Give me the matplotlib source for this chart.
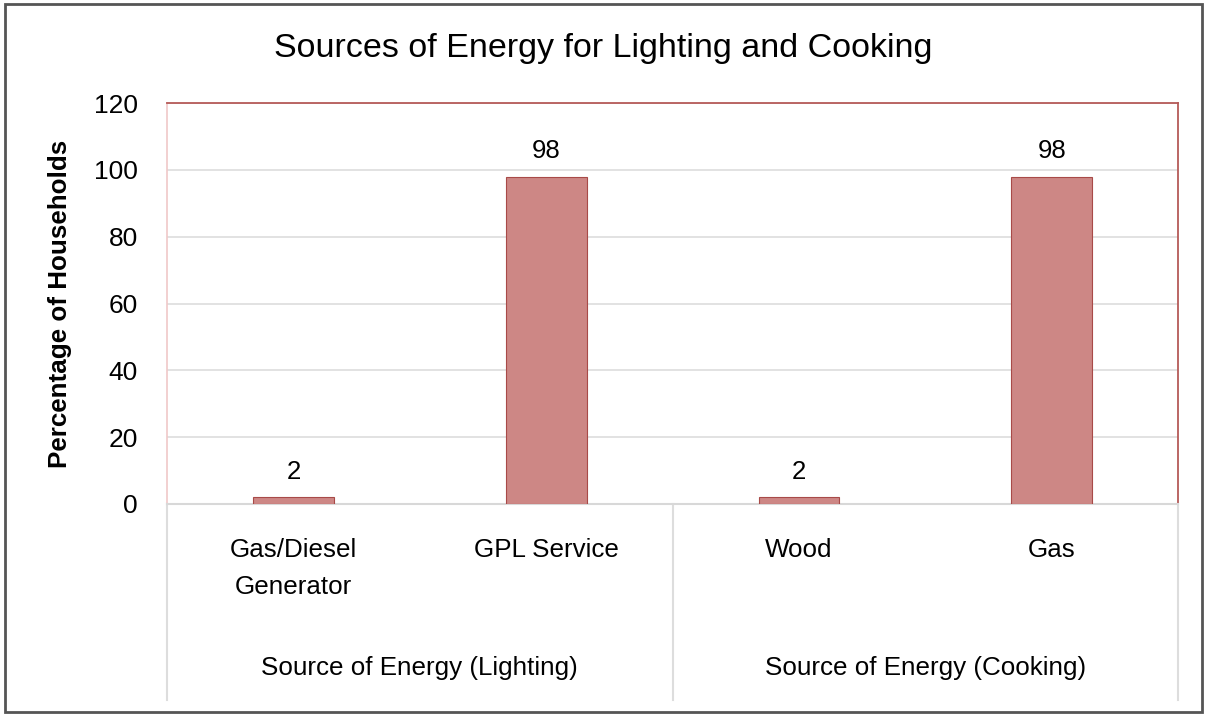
import numpy as np
import matplotlib.pyplot as plt
from matplotlib.patches import Rectangle

# data
categories = ["Gas/Diesel\nGenerator", "GPL Service", "Wood", "Gas"]
values = [2, 98, 2, 98]
groups = ["Source of Energy (Lighting)", "Source of Energy (Cooking)"]
group_size = [2, 2]
yticks = [0, 20, 40, 60, 80, 100, 120]

plt.rcParams['font.family'] = ['Liberation Sans', 'DejaVu Sans']

fig = plt.figure(figsize=(12.07, 7.17), dpi=100)
ax = fig.add_axes([0.1384, 0.2971, 0.8377, 0.5592])

x = np.arange(len(categories))
bars = ax.bar(x, values, width=0.32, color="#CD8785", edgecolor="#A84A48", linewidth=0.8, zorder=3)
for b, v in zip(bars, values):
    ax.text(b.get_x() + b.get_width() / 2, v + 4, str(v), ha="center", va="bottom", fontsize=18.5)

ax.set_xlim(-0.5, len(categories) - 0.5)
ax.set_ylim(0, 120)
ax.set_yticks(yticks)
ax.tick_params(axis="y", length=0, labelsize=19, pad=21)
ax.set_xticks([])
ax.yaxis.grid(True, color="#DDDDDD", linewidth=1.2, zorder=0)

for s in ["top", "right"]:
    ax.spines[s].set_color("#B55A58")
    ax.spines[s].set_linewidth(1.3)
ax.spines["left"].set_color("#F0C8C8")
ax.spines["left"].set_linewidth(1.2)
ax.spines["bottom"].set_color("#D8D8D8")
ax.spines["bottom"].set_linewidth(1.5)

ax.set_ylabel("Percentage of Households", fontsize=18.7, fontweight="bold", labelpad=16)

# category labels and group labels below axis
trans = ax.get_xaxis_transform()
for xi, lab in zip(x, categories):
    ax.text(xi, -0.085, lab, transform=trans, ha="center", va="top", fontsize=18.7, linespacing=1.7)

start = 0
bounds = [-0.5]
for g, n in zip(groups, group_size):
    mid = start + (n - 1) / 2
    ax.text(mid, -0.41, g, transform=trans, ha="center", va="center", fontsize=18.7)
    start += n
    bounds.append(start - 0.5)
for bx in bounds:
    ax.plot([bx, bx], [0, -0.49], transform=trans, color="#DDDDDD", linewidth=1.5, clip_on=False)

fig.text(0.5, 0.932, "Sources of Energy for Lighting and Cooking", ha="center", va="center",
         fontsize=24.5)

# outer frame
fig.patches.append(Rectangle((0.004, 0.007), 0.992, 0.987, transform=fig.transFigure,
                             fill=False, edgecolor="#555555", linewidth=2))

fig.savefig("out.png", dpi=100)
